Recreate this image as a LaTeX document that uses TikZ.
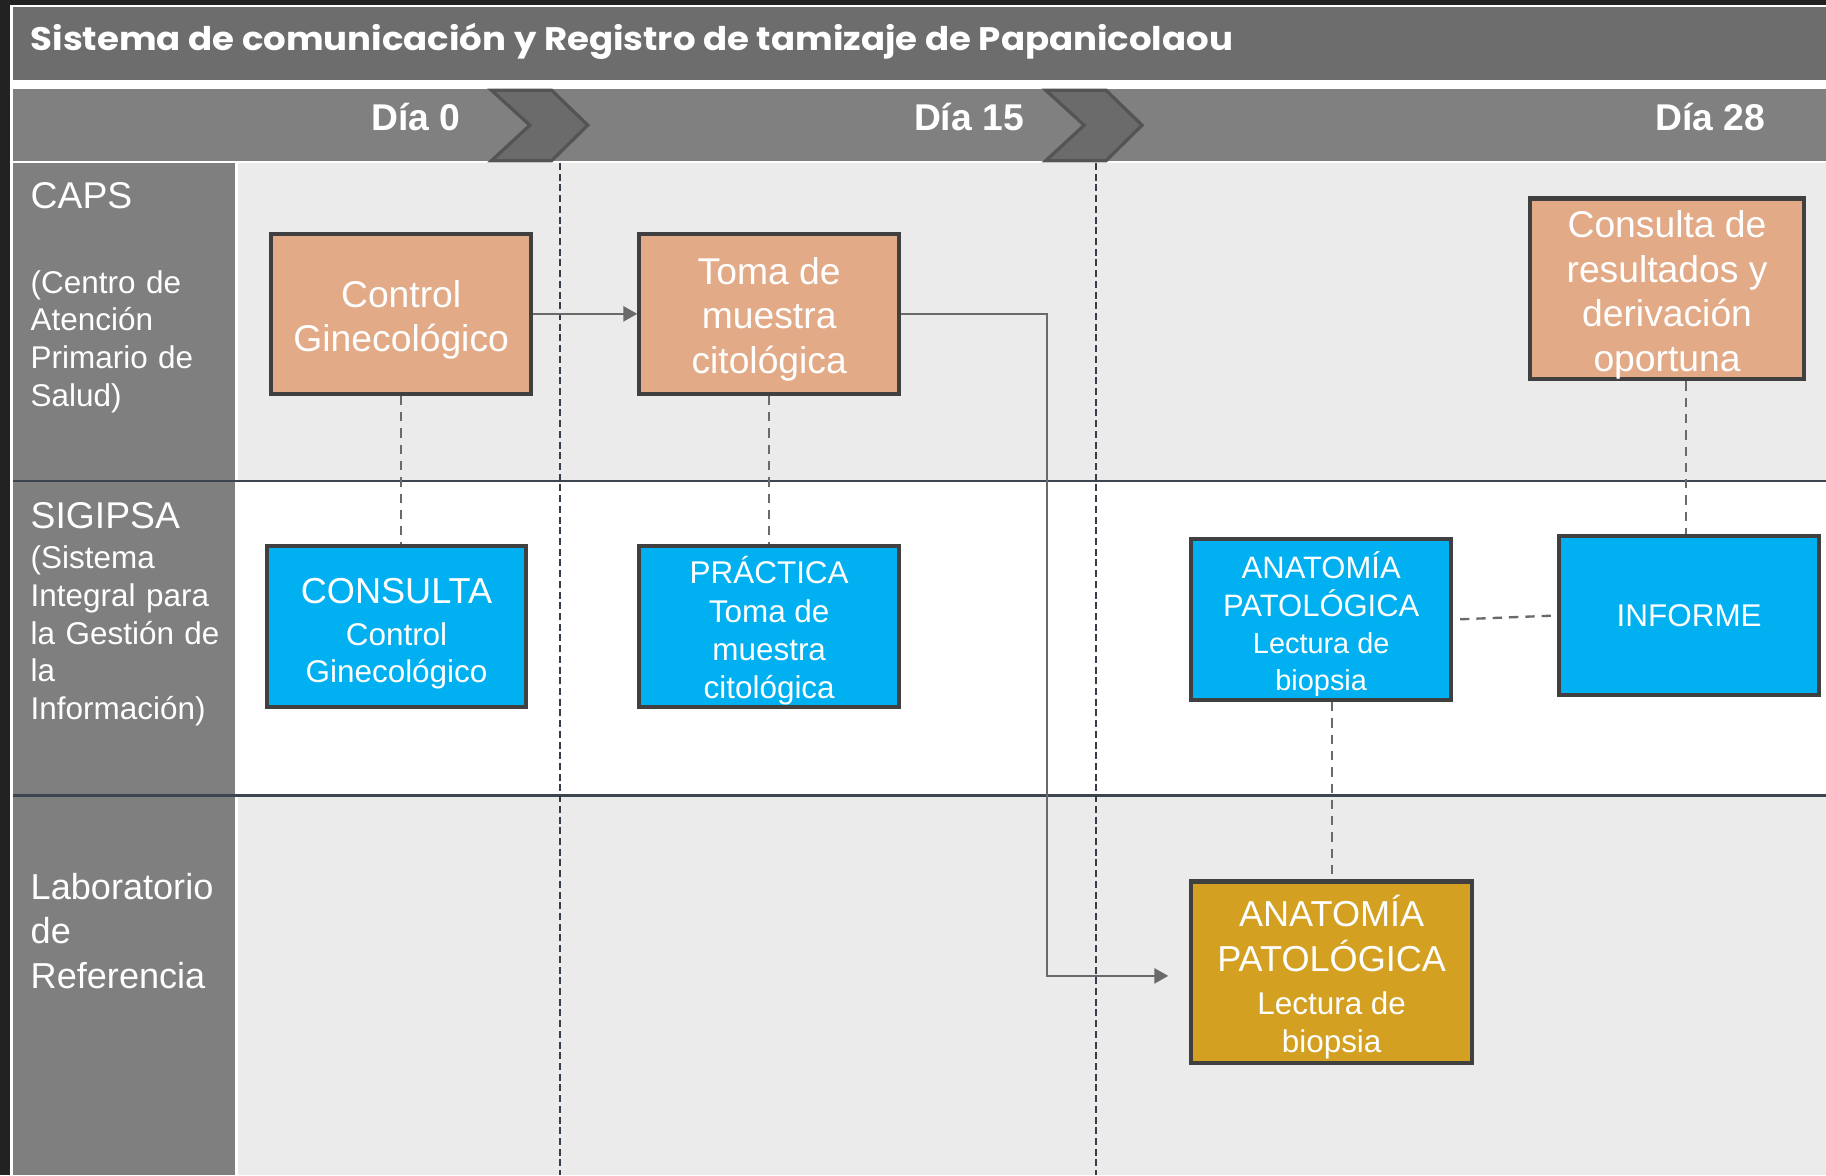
\documentclass[tikz,border=0pt]{standalone}
\usepackage{fontspec}
\setmainfont{Liberation Sans}
\newfontfamily\titlefont{Poppins}
\usetikzlibrary{arrows.meta,calc}
\definecolor{orangebox}{HTML}{E2AA86}
\definecolor{bluebox}{HTML}{00B0F0}
\definecolor{goldbox}{HTML}{D4A021}
\definecolor{boxborder}{HTML}{404040}
\definecolor{titlegray}{HTML}{6D6D6D}
\definecolor{daygray}{HTML}{808080}
\definecolor{lanelabel}{HTML}{7F7F7F}
\definecolor{lanelight}{HTML}{EBEBEB}
\definecolor{sepline}{HTML}{3C4550}
\definecolor{vline}{HTML}{353D48}
\definecolor{conn}{HTML}{6A6A6A}
\definecolor{chevfill}{HTML}{6B6B6B}
\definecolor{chevdraw}{HTML}{545454}
\definecolor{outerbg}{HTML}{222222}
\newcommand{\tstrut}[1]{\rule{0pt}{#1}}
\begin{document}
\begin{tikzpicture}[x=0.5pt,y=-0.5pt,
  procbox/.style={draw=boxborder, line width=1.8pt, text=white, align=center, inner sep=0pt},
  orangebx/.style={procbox, fill=orangebox},
  bluebx/.style={procbox, fill=bluebox},
  goldbx/.style={procbox, fill=goldbox},
  daylbl/.style={anchor=base, text=white, inner sep=0pt, font=\bfseries\fontsize{16}{19}\selectfont},
  lanehead/.style={anchor=base west, text=white, inner sep=0pt, font=\fontsize{16}{19}\selectfont},
  lanedesc/.style={anchor=base west, text=white, inner sep=0pt, align=left, text width=100pt, font=\fontsize{13.5}{16.2}\selectfont},
  flow/.style={draw=conn, line width=1pt, -{Triangle[length=6pt,width=6.5pt]}},
  dconn/.style={draw=conn, line width=1pt, dash pattern=on 4pt off 3pt},
  vdash/.style={draw=vline, line width=0.75pt, dash pattern=on 3pt off 1.6pt},
  chev/.style={fill=chevfill, draw=chevdraw, line width=1.4pt, line join=miter}
]
\useasboundingbox (0,0) rectangle (1568,1009);
% background and frame
\fill[outerbg] (0,0) rectangle (1568,1009);
\fill[white] (9,4) rectangle (1568,1009);
% title bar
\fill[titlegray] (11,6) rectangle (1568,69);
% day bar
\fill[daygray] (11,76) rectangle (1568,138.5);
% lanes
\fill[lanelabel] (11,140) rectangle (202,1009);
\fill[lanelight] (204,140) rectangle (1568,413);
\fill[white] (204,413) rectangle (1568,683);
\fill[lanelight] (204,683) rectangle (1568,1009);
\draw[sepline, line width=1.2pt] (11,413) -- (1568,413);
\draw[sepline, line width=1.2pt] (11,683) -- (1568,683);
% day separators
\draw[vdash] (481,140) -- (481,1009);
\draw[vdash] (941,140) -- (941,1009);
% chevrons
\draw[chev] (422,77.5) -- (473.7,77.5) -- (504.7,107.5) -- (473.7,138) -- (422,138) -- (455,107.5) -- cycle;
\draw[chev] (898,77.5) -- (949.7,77.5) -- (980.7,107.5) -- (949.7,138) -- (898,138) -- (931,107.5) -- cycle;
% title
\node[anchor=base west, text=white, inner sep=0pt, font=\titlefont\bfseries\fontsize{14}{16}\selectfont] (title) at (26,43.5) {\scalebox{1.09}[1]{Sistema de comunicación y Registro de tamizaje de Papanicolaou}};
% day labels
\node[daylbl] (d0) at (357,112) {Día 0};
\node[daylbl] (d15) at (832,112) {Día 15};
\node[daylbl] (d28) at (1468.5,112) {Día 28};
% lane labels
\node[lanehead] (capsT) at (26,178.6) {CAPS};
\node[lanedesc] (capsD) at (26,251.6) {(Centro de\\Atención\\Primario de\\Salud)};
\node[lanehead] (sigT) at (26,453.4) {SIGIPSA};
\node[lanedesc] (sigD) at (26,488.4) {(Sistema\\Integral para\\la Gestión de\\la\\Información)};
\node[lanedesc, font=\fontsize{15.5}{19.1}\selectfont] (labT) at (26,772.3) {Laboratorio\\de\\Referencia};
% boxes
\node[orangebx, minimum width=111.5pt, minimum height=68.5pt, font=\fontsize{16}{19}\selectfont] (ctrl) at (344.5,269.5) {\tstrut{16.7pt}Control\\Ginecológico};
\node[orangebx, minimum width=111.5pt, minimum height=68.5pt, font=\fontsize{16}{19.2}\selectfont] (toma) at (660.5,269.5) {\tstrut{16.2pt}Toma de\\muestra\\citológica};
\node[orangebx, minimum width=117.5pt, minimum height=77pt, font=\fontsize{16}{19.2}\selectfont] (res) at (1431.5,248) {\tstrut{16.7pt}Consulta de\\resultados y\\derivación\\oportuna};
\node[bluebx, minimum width=111.5pt, minimum height=69pt, font=\fontsize{13.5}{16}\selectfont] (cons) at (340.5,538) {\fontsize{15.5}{18}\selectfont\tstrut{16.8pt}CONSULTA\\[2pt]\fontsize{13.5}{16}\selectfont Control\\\fontsize{13.5}{16}\selectfont Ginecológico};
\node[bluebx, minimum width=111.5pt, minimum height=69pt, font=\fontsize{13.5}{16.5}\selectfont] (prac) at (660.5,538) {\tstrut{15.4pt}PRÁCTICA\\Toma de\\muestra\\citológica};
\node[bluebx, minimum width=111.5pt, minimum height=69pt, font=\fontsize{12.4}{16}\selectfont] (anat) at (1134.5,532) {\fontsize{13.3}{16}\selectfont\tstrut{15.7pt}ANATOMÍA\\\fontsize{13.3}{16}\selectfont PATOLÓGICA\\\fontsize{12.4}{16}\selectfont Lectura de\\\fontsize{12.4}{16}\selectfont biopsia};
\node[bluebx, minimum width=111.5pt, minimum height=68.5pt, font=\fontsize{13.5}{16}\selectfont] (inf) at (1450.5,528.5) {INFORME};
\node[goldbx, minimum width=120.5pt, minimum height=78pt, font=\fontsize{13.5}{16.5}\selectfont] (gold) at (1143.5,835) {\fontsize{15.5}{18}\selectfont\tstrut{17.8pt}ANATOMÍA\\[2.5pt]\fontsize{15.5}{18}\selectfont PATOLÓGICA\\[2pt]\fontsize{13.5}{16.5}\selectfont Lectura de\\\fontsize{13.5}{16.5}\selectfont biopsia};
% connectors
\coordinate (bend) at (899,269.5);
\draw[flow] (ctrl.east) -- (toma.west);
\draw[flow, shorten >=9pt] (toma.east) -- (bend) |- ($(gold.west)+(0,3)$);
\draw[dconn] (ctrl.south) -- (ctrl.south |- cons.north);
\draw[dconn] (toma.south) -- (toma.south |- prac.north);
\draw[dconn] ($(inf.north |- res.south)+(-2.5,0)$) -- ($(inf.north)+(-2.5,0)$);
\draw[dconn, shorten <=3pt] (anat.east) -- (inf.west);
\draw[dconn] (gold.north |- anat.south) -- (gold.north);
\end{tikzpicture}
\end{document}
